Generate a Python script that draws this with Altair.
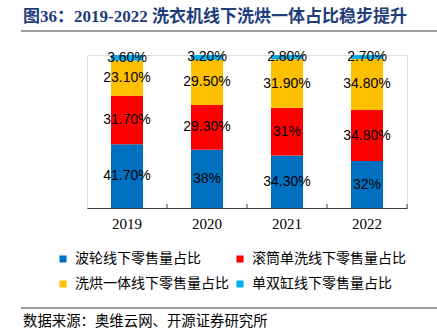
import altair as alt
import pandas as pd

years = ["2019", "2020", "2021", "2022"]
series = ["波轮线下零售量占比", "滚筒单洗线下零售量占比", "洗烘一体线下零售量占比", "单双缸线下零售量占比"]
colors = ["#0070C0", "#FF0000", "#FFC000", "#00B0F0"]
pulsator = [41.7, 38.0, 34.3, 32.0]
drum_wash = [31.7, 29.3, 31.0, 34.8]
wash_dry = [23.1, 29.5, 31.9, 34.8]
twin_tub = [3.6, 3.2, 2.8, 2.7]
y_ticks = [0, 0.2, 0.4, 0.6, 0.8, 1.0]
category_boundaries = [1, 2, 3, 4]
TITLE = "图36：2019-2022 洗衣机线下洗烘一体占比稳步提升"
SOURCE = "数据来源：奥维云网、开源证券研究所"

def fmt(v):
    return f"{int(v)}%" if float(v).is_integer() else f"{v:.2f}%"

rows = []
for si, (name, vals) in enumerate(zip(series, [pulsator, drum_wash, wash_dry, twin_tub])):
    for y, v in zip(years, vals):
        rows.append({"year": y, "series": name, "order": si, "value": v, "label": fmt(v)})
df = pd.DataFrame(rows)

W, H = 320, 153
x_scale = alt.Scale(paddingInner=0.6, paddingOuter=0.3)

bars = alt.Chart(df).mark_bar().encode(
    x=alt.X("year:N", scale=x_scale, sort=years, title=None,
            axis=alt.Axis(orient="bottom", labelAngle=0, ticks=False, domain=True,
                          domainColor="#404040", labelFont="Liberation Serif",
                          labelFontSize=15, labelColor="#000000", labelPadding=8)),
    y=alt.Y("value:Q", stack="normalize", title=None,
            scale=alt.Scale(domain=[0, 1], nice=False),
            axis=alt.Axis(values=y_ticks, format=".0%", grid=False, domainColor="#404040",
                          tickColor="#404040", tickSize=4, labelPadding=8,
                          labelFont="Liberation Serif", labelFontSize=14.5,
                          labelColor="#000000")),
    color=alt.Color("series:N", scale=alt.Scale(domain=series, range=colors),
                    sort=series,
                    legend=alt.Legend(title=None, orient="none", legendX=-31, legendY=197,
                                      direction="horizontal",
                                      columns=2, columnPadding=4, rowPadding=11,
                                      symbolType="square", symbolSize=50,
                                      symbolStrokeWidth=0, labelOffset=5,
                                      labelFont="Noto Sans CJK SC", labelFontSize=14,
                                      labelColor="#000000", labelLimit=300)),
    order=alt.Order("order:Q"),
)

labels = alt.Chart(df).transform_stack(
    stack="value", groupby=["year"], as_=["y0", "y1"], offset="normalize",
    sort=[alt.SortField("order")]
).transform_calculate(mid="(datum.y0 + datum.y1) / 2").mark_text(
    font="Liberation Sans", fontSize=14, color="#000000", baseline="middle"
).encode(
    x=alt.X("year:N", scale=x_scale, sort=years, title=None, axis=None),
    y=alt.Y("mid:Q", scale=alt.Scale(domain=[0, 1], nice=False), axis=None),
    text="label:N",
)

ticks = alt.Chart(pd.DataFrame({"b": category_boundaries})).mark_rule(
    color="#404040", strokeWidth=1
).encode(
    x=alt.X("b:Q", scale=alt.Scale(domain=[0, 4], nice=False, zero=False), axis=None),
    y=alt.value(H - 4), y2=alt.value(H),
)

title_text = alt.Chart(alt.Data(values=[{"t": TITLE}])).mark_text(
    align="left", baseline="middle", font="Liberation Serif, Noto Sans CJK SC",
    fontSize=17, fontWeight="bold", color="#1F3D7A"
).encode(x=alt.value(-64), y=alt.value(-38), text="t:N")

source_text = alt.Chart(alt.Data(values=[{"t": SOURCE}])).mark_text(
    align="left", baseline="middle", font="Noto Sans CJK SC", fontSize=14.4,
    color="#000000"
).encode(x=alt.value(-64), y=alt.value(267), text="t:N")

top_line = alt.Chart(alt.Data(values=[{}])).mark_rule(color="#404040", strokeWidth=1.2).encode(
    x=alt.value(-66), x2=alt.value(350), y=alt.value(-24))
bottom_line = alt.Chart(alt.Data(values=[{}])).mark_rule(color="#404040", strokeWidth=1).encode(
    x=alt.value(-66), x2=alt.value(350), y=alt.value(253))

chart = alt.layer(bars, labels, ticks, title_text, source_text, top_line, bottom_line).resolve_scale(
    x="independent"
).properties(
    width=W, height=H,
    autosize=alt.AutoSizeParams(type="none"),
    padding={"left": 87, "top": 55, "right": 30, "bottom": 122},
).configure_view(stroke=None).configure(background="#FFFFFF")

chart.save("out.html", embed_options={"renderer": "svg", "actions": False})
